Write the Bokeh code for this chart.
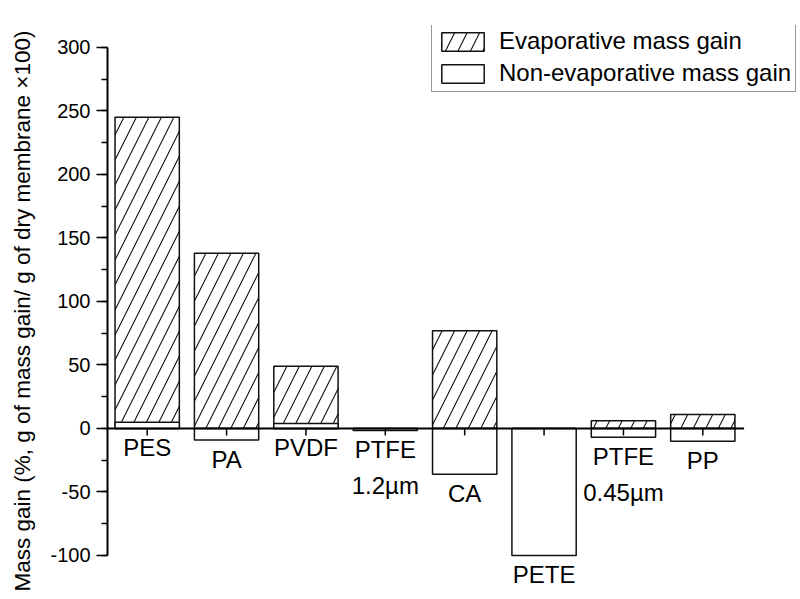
import numpy as np
from bokeh.plotting import figure
from bokeh.models import (Range1d, SingleIntervalTicker, Legend, LegendItem,
                          ColumnDataSource)
from bokeh.core.properties import value
from bokeh.embed import file_html
from bokeh.resources import INLINE

# ---- data ----
categories = ["PES", "PA", "PVDF", "PTFE\n1.2\u00b5m", "CA", "PETE", "PTFE\n0.45\u00b5m", "PP"]
evaporative = [245, 138, 49, 0, 77, 0, 6, 11]
non_evaporative = [5, -9, 4, -1.5, -36, -100, -7, -10]
y_ticks_neg_labels = {-50: "-50", -100: "-100"}

FONT = "Liberation Sans"
INK = "#111111"

xpos = np.arange(1, len(categories) + 1)
label_y = np.minimum(np.array(non_evaporative, dtype=float), 0)

src = ColumnDataSource(dict(x=xpos, cat=categories, evap=evaporative,
                            nonevap=non_evaporative, label_y=label_y))

p = figure(frame_width=690, frame_height=571,
           x_range=Range1d(0.5, 9.193), y_range=Range1d(-132.3, 317.3),
           output_backend="svg", toolbar_location=None,
           x_axis_location=None, y_axis_location="left",
           min_border_left=107, min_border_right=3,
           min_border_top=25, min_border_bottom=3,
           background_fill_color="white", border_fill_color="white")
p.grid.visible = False
p.outline_line_color = None

r_evap = p.vbar(x="x", top="evap", bottom=0, width=0.81, source=src,
                fill_color="white", line_color=INK, line_width=1.5,
                hatch_pattern="/", hatch_scale=25, hatch_weight=1.1,
                hatch_color=INK)
r_non = p.vbar(x="x", top="nonevap", bottom=0, width=0.81, source=src,
               fill_color="white", line_color=INK, line_width=1.5)

# zero line acting as the x axis, with category ticks
p.segment(x0=xpos[0] - 0.5, x1=xpos[-1] + 0.52, y0=0, y1=0,
          line_color="black", line_width=2)
p.ray(x="x", y=0, length=7, length_units="screen", angle=-np.pi / 2,
      line_color="black", line_width=1.5, source=src)

p.text(x="x", y="label_y", text="cat", source=src, text_align="center",
       text_baseline="top", y_offset=6, text_font=value(FONT),
       text_font_size="24px", text_line_height=1.32, text_color="black")

ax = p.yaxis[0]
ax.bounds = (-100, 300)
ax.ticker = SingleIntervalTicker(interval=50, num_minor_ticks=2)
ax.major_label_overrides = y_ticks_neg_labels
ax.axis_line_width = 2
ax.axis_line_color = "black"
ax.major_tick_line_width = 1.5
ax.minor_tick_line_width = 1.5
ax.major_tick_out = 11
ax.major_tick_in = 0
ax.minor_tick_out = 6
ax.minor_tick_in = 0
ax.major_label_standoff = 6
ax.major_label_text_font = FONT
ax.major_label_text_font_size = "20px"
ax.major_label_text_color = "black"
ax.axis_label = "Mass gain (%, g of mass gain/ g of dry membrane \u00d7100)"
ax.axis_label_text_font = FONT
ax.axis_label_text_font_size = "22.5px"
ax.axis_label_text_font_style = "normal"
ax.axis_label_text_color = "black"
ax.axis_label_standoff = 12

legend = Legend(items=[LegendItem(label="Evaporative mass gain", renderers=[r_evap]),
                       LegendItem(label="Non-evaporative mass gain", renderers=[r_non])],
                location=(324, 504), glyph_width=53, glyph_height=23,
                label_text_font=FONT, label_text_font_size="24px",
                label_text_color="black", label_standoff=10, padding=4,
                spacing=4, margin=0, border_line_color="#333333",
                border_line_width=1, background_fill_color="white",
                background_fill_alpha=1.0)
p.add_layout(legend)

open("out.html", "w").write(file_html(p, INLINE))
